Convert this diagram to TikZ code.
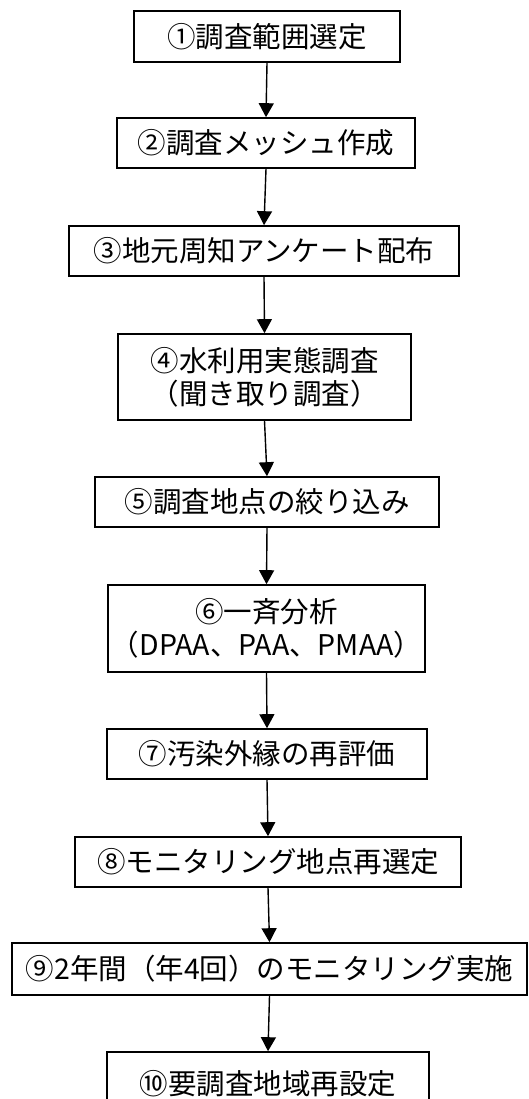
\documentclass[tikz,border=0pt]{standalone}
\usepackage{fontspec}
\setmainfont{Noto Sans CJK JP}
\usetikzlibrary{arrows.meta}
\tikzset{
  box/.style={draw=black, line width=1.6pt, fill=white, inner sep=0pt,
    font=\fontsize{28.5}{33}\selectfont, align=center},
  flow/.style={draw=black, line width=1.4pt, -{Triangle[width=15pt,length=14pt]}}
}
\begin{document}
\begin{tikzpicture}[x=1pt,y=-1pt]
\useasboundingbox (0,0) rectangle (528,1099);
\clip (0,0) rectangle (528,1099);
\fill[white] (0,0) rectangle (528,1099);
\node[box, minimum width=266pt, minimum height=51pt] (n1) at (267,36.5) {①調査範囲選定};
\node[box, minimum width=298pt, minimum height=50pt] (n2) at (266,143) {②調査メッシュ作成};
\node[box, minimum width=390pt, minimum height=50pt] (n3) at (264,251) {③地元周知アンケート配布};
\node[box, minimum width=293pt, minimum height=86pt] (n4) at (264.5,377) {④水利用実態調査\\（聞き取り調査）};
\node[box, minimum width=344pt, minimum height=50pt] (n5) at (267,502) {⑤調査地点の絞り込み};
\node[box, minimum width=317pt, minimum height=87pt] (n6) at (266.5,628.5) {⑥一斉分析\\（DPAA、PAA、PMAA）};
\node[box, minimum width=320pt, minimum height=50pt] (n7) at (267,754) {⑦汚染外縁の再評価};
\node[box, minimum width=386pt, minimum height=50pt] (n8) at (268,862) {⑧モニタリング地点再選定};
\node[box, minimum width=515pt, minimum height=52pt] (n9) at (269.5,969) {⑨2年間（年4回）のモニタリング実施};
\node[box, minimum width=322pt, minimum height=64pt] (n10) at (268,1084) {⑩要調査地域再設定};
\draw[flow] (n1.south) -- (n2.north);
\draw[flow] (n2.south) -- (n3.north);
\draw[flow] (n3.south) -- (n4.north);
\draw[flow] (n4.south) -- (n5.north);
\draw[flow] (n5.south) -- (n6.north);
\draw[flow] (n6.south) -- (n7.north);
\draw[flow] (n7.south) -- (n8.north);
\draw[flow] (n8.south) -- (n9.north);
\draw[flow] (n9.south) -- (n10.north);
\end{tikzpicture}
\end{document}
